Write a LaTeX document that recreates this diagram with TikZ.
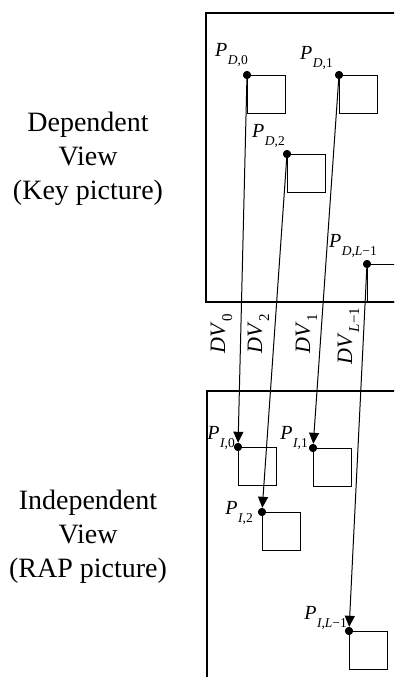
\documentclass[tikz,border=0pt]{standalone}
\usepackage{fontspec}
\setmainfont{Liberation Serif}
\usetikzlibrary{arrows.meta,calc}
\newcommand{\pl}[2]{\fontsize{20}{20}\selectfont\textit{P}\kern0.5pt\raisebox{-0.42em}{\fontsize{13.5}{13.5}\selectfont\textit{#1},#2}}
\newcommand{\dvl}[1]{\fontsize{22}{22}\selectfont\textit{DV}\kern0.5pt\raisebox{-0.32em}{\fontsize{15}{15}\selectfont #1}}
\begin{document}
\begin{tikzpicture}[x=1pt,y=-1pt,
  bigbox/.style={line width=1.8pt},
  sq/.style={draw, line width=1.2pt, minimum size=38pt, inner sep=0pt, anchor=north west},
  dotn/.style={circle, fill=black, inner sep=0pt, minimum size=8pt},
  mv/.style={-{Triangle[length=11pt,width=10pt]}, line width=1pt},
  lab/.style={inner sep=0pt, anchor=south east},
  dvlab/.style={rotate=90, anchor=base, inner sep=0pt},
  side/.style={align=center, inner sep=0pt, font=\fontsize{28}{34}\selectfont}]
\useasboundingbox (0,0) rectangle (394,677);
\clip (0,0) rectangle (394,677);
% big boxes
\draw[bigbox] (402,13) -- (206,13) -- (206,302) -- (402,302);
\draw[bigbox] (402,391) -- (207,391) -- (207,690);
% side texts
\node[side] (dep) at (88,159) {Dependent\\View\\(Key picture)};
\node[side] (ind) at (88,537) {Independent\\View\\(RAP picture)};
% dependent-view squares and points
\node[dotn] (d0) at (247,75) {};
\node[dotn] (d1) at (339,75) {};
\node[dotn] (d2) at (287,154) {};
\node[dotn] (dL) at (367,264) {};
\node[sq] (sd0) at (d0.center) {};
\node[sq] (sd1) at (d1.center) {};
\node[sq] (sd2) at (d2.center) {};
\node[sq] (sdL) at (dL.center) {};
% independent-view squares and points
\node[dotn] (i0) at (238,447) {};
\node[dotn] (i1) at (313,448) {};
\node[dotn] (i2) at (262,512) {};
\node[dotn] (iL) at (349,631) {};
\node[sq] (si0) at (i0.center) {};
\node[sq] (si1) at (i1.center) {};
\node[sq] (si2) at (i2.center) {};
\node[sq] (siL) at (iL.center) {};
% redraw dots on top
\foreach \n in {d0,d1,d2,dL,i0,i1,i2,iL} {\fill (\n) circle (4pt);}
% labels
\node[lab] (ld0) at ($(d0)+(1,-8)$) {\pl{D}{0}};
\node[lab] (ld1) at ($(d1)+(-6,-5)$) {\pl{D}{1}};
\node[lab] (ld2) at ($(d2)+(-2,-6)$) {\pl{D}{2}};
\node[lab] (ldL) at ($(dL)+(10,-6)$) {\pl{D}{\textit{L}−1}};
\node[lab] (li0) at ($(i0)+(-3,3)$) {\pl{I}{0}};
\node[lab] (li1) at ($(i1)+(-5,2)$) {\pl{I}{1}};
\node[lab] (li2) at ($(i2)+(-9,13)$) {\pl{I}{2}};
\node[lab] (liL) at ($(iL)+(-2,-1)$) {\pl{I}{\textit{L}−1}};
% disparity vectors
\draw[mv] (d0) -- (i0);
\draw[mv] (d1) -- (i1);
\draw[mv] (d2) -- (i2);
\draw[mv] (dL) -- (iL);
\node[dvlab] (v0) at (225,334) {\dvl{0}};
\node[dvlab] (v2) at (262,334) {\dvl{2}};
\node[dvlab] (v1) at (310,334) {\dvl{1}};
\node[dvlab] (vL) at (352,336) {\dvl{\textit{L}−1}};
\end{tikzpicture}
\end{document}
